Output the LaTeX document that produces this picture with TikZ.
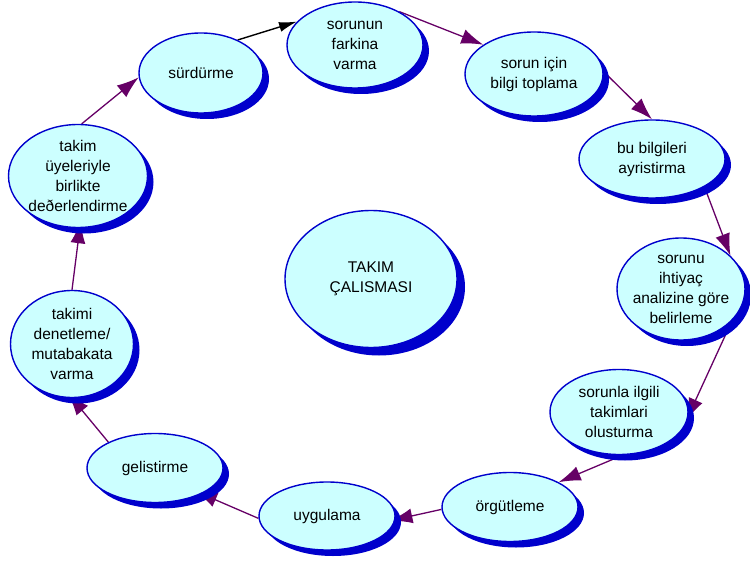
\documentclass[tikz,border=0pt]{standalone}
\usepackage{fontspec}
\setmainfont{Liberation Sans}
\usepackage{tikz}
\usetikzlibrary{arrows.meta}
\usetikzlibrary{shapes.geometric}
\usetikzlibrary{shadows}
\usetikzlibrary{backgrounds}
\definecolor{balonic}{RGB}{204,255,255}
\definecolor{kenar}{RGB}{0,0,204}
\definecolor{okrenk}{RGB}{102,0,102}
\tikzset{>={Latex[length=22bp,width=15bp]}}
\tikzset{
	konu/.style={ellipse, draw=kenar, line width=1.4bp, fill=balonic, inner sep=-8bp, align=center,
		font=\fontsize{15.5bp}{20bp}\selectfont,
		drop shadow={shadow xshift=#1, shadow yshift=-#1, fill=kenar, opacity=1}},
	konu/.default=6bp,
	ok/.style={draw=okrenk, line width=1.3bp, ->},
	siyahok/.style={draw=black, line width=1.4bp, -{Latex[length=18bp,width=10bp]}}
}
\newcommand{\balon}[6][6bp]{% [shadow]{name}{x,y}{width}{height}{text}
	\node[konu=#1, minimum width=#4bp, minimum height=#5bp] (#2) at (#3) {#6}; % oval with shadow
}

\begin{document}
\begin{tikzpicture}[x=1bp, y=-1bp]
	\useasboundingbox (0,0) rectangle (750,562);

	\balon{surdur}{201,73}{124}{80}{sürdürme}
	\balon{farkina}{355,45}{136}{86}{sorunun\\farkina\\varma}
	\balon{bilgi}{534,74}{138}{84}{sorun için\\bilgi toplama}
	\balon{ayristir}{652,159}{146}{78}{bu bilgileri\\ayristirma}
	\balon{ihtiyac}{681,289}{128}{102}{sorunu\\ihtiyaç\\analizine göre\\belirleme}
	\balon{sorunla}{619,412}{138}{85}{sorunla ilgili\\takimlari\\olusturma}
	\balon{orgut}{510,507}{136}{69}{örgütleme}
	\balon{uygula}{327,516}{136}{68}{uygulama}
	\balon{gelis}{155,468}{136}{69}{gelistirme}
	\balon{takimi}{72,344}{123}{107}{takimi\\denetleme/\\mutabakata\\varma}
	\balon{uyeler}{78,176}{139}{103}{takim\\üyeleriyle\\birlikte\\deðerlendirme}
	\balon[8bp]{takim}{371,279}{172}{137}{TAKIM\\ÇALISMASI}

	\begin{scope}[on background layer]
		\draw[siyahok] (surdur.42) -- (farkina.158);
		\draw[ok] (farkina.37) -- (bilgi.150);
		\draw[ok] (bilgi.2) -- (ayristir.90);
		\draw[ok] (ayristir.-28) -- (ihtiyac.34);
		\draw[ok, shorten >=-5bp] (ihtiyac.-32) -- (sorunla.-3);
		\draw[ok] (sorunla.-85) -- (orgut.27);
		\draw[ok, shorten >=-5bp] (orgut.182) -- (uygula.-3);
		\draw[ok, shorten >=-7bp] (uygula.182) -- (gelis.-29);
		\draw[ok, shorten >=-6bp] (gelis.151) -- (takimi.-90);
		\draw[ok, shorten >=-7bp] (takimi.90) -- (uyeler.-88);
		\draw[ok] (uyeler.86) -- (surdur.184);
	\end{scope}
\end{tikzpicture}
\end{document}
